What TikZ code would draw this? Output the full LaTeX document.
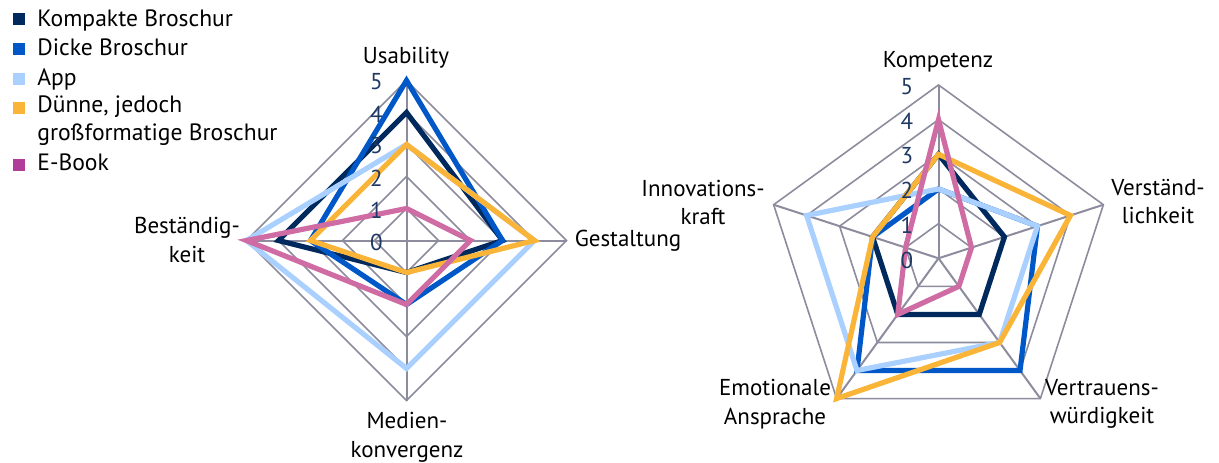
\documentclass[tikz,border=0pt]{standalone}
\usepackage{fontspec}
\setmainfont{PT Sans}
\usetikzlibrary{calc}
\definecolor{navyc}{RGB}{0,42,94}
\definecolor{bluec}{RGB}{0,88,200}
\definecolor{appc}{RGB}{170,208,255}
\definecolor{orangec}{RGB}{250,180,55}
\definecolor{pinkc}{RGB}{208,108,164}
\definecolor{pinkleg}{RGB}{176,62,152}
\definecolor{gridc}{RGB}{140,140,158}
\definecolor{tickc}{RGB}{31,56,100}
\begin{document}
\begin{tikzpicture}[x=0.5pt,y=-0.5pt,
  gridline/.style={draw=gridc,line width=0.8pt},
  spoke/.style={draw=gridc,line width=1pt},
  series/.style={line width=2.6pt,line join=miter},
  lbl/.style={font=\fontsize{11.5}{14.25}\selectfont,align=center,inner sep=0pt},
  ticklbl/.style={font=\fontsize{11.5}{13}\selectfont,text=tickc,inner sep=0pt},
  legsq/.style={minimum size=6pt,inner sep=0pt},
  legtxt/.style={font=\fontsize{11.8}{14.25}\selectfont,anchor=base west,inner sep=0pt,align=left}]
\useasboundingbox (0,0) rectangle (1219,462);
% ---------------- left chart
\coordinate (L) at (406.5,240.5);
\foreach \r in {1,...,5}
  \draw[gridline] ($(L)+(-90:\r*32)$) -- ($(L)+(0:\r*32)$) -- ($(L)+(90:\r*32)$) -- ($(L)+(180:\r*32)$) -- cycle;
\foreach \a in {-90,0,90,180}
  \draw[spoke] (L) -- ($(L)+(\a:160)$);
\newcommand\quadpoly[5]{\draw[series,#1] ($(L)+(-90:#2*32)$) -- ($(L)+(0:#3*32)$) -- ($(L)+(90:#4*32)$) -- ($(L)+(180:#5*32)$) -- cycle;}
\quadpoly{navyc}{4}{3}{1}{4}
\quadpoly{bluec}{5}{3}{2}{3}
\quadpoly{appc}{3}{4}{4}{5}
\quadpoly{orangec}{3}{4}{1}{3}
\quadpoly{pinkc}{1}{2}{2}{5}
\foreach \v in {0,...,5}
  \node[ticklbl] (lt\v) at (376.5,{242-\v*32}) {\v};
\node[lbl] (usab) at (406,58) {Usability};
\node[lbl] (gest) at (628,241) {Gestaltung};
\node[lbl] (medi) at (407,437.5) {Medien-\\konvergenz};
\node[lbl] (best) at (187,240) {Beständig-\\keit};
% ---------------- right chart
\coordinate (R) at (938.5,258.3);
\foreach \r in {1,...,5}
  \draw[gridline] ($(R)+(-90:\r*34.67)$) -- ($(R)+(-18:\r*34.67)$) -- ($(R)+(54:\r*34.67)$) -- ($(R)+(126:\r*34.67)$) -- ($(R)+(198:\r*34.67)$) -- cycle;
\foreach \a in {-90,-18,54,126,198}
  \draw[spoke] (R) -- ($(R)+(\a:173.3)$);
\newcommand\pentpoly[6]{\draw[series,#1] ($(R)+(-90:#2*34.67)$) -- ($(R)+(-18:#3*34.67)$) -- ($(R)+(54:#4*34.67)$) -- ($(R)+(126:#5*34.67)$) -- ($(R)+(198:#6*34.67)$) -- cycle;}
\pentpoly{navyc}{3}{2}{2}{2}{2}
\pentpoly{bluec}{2}{3}{4}{4}{2}
\pentpoly{appc}{2}{3}{3}{4}{4}
\pentpoly{orangec}{3}{4}{3}{5}{2}
\pentpoly{pinkc}{4}{1}{1}{2}{1}
\foreach \v in {0,...,5}
  \node[ticklbl] (rt\v) at (907,{260-\v*34.67}) {\v};
\node[lbl] (komp) at (938,62) {Kompetenz};
\node[lbl] (vers) at (1158,201.7) {Verständ-\\lichkeit};
\node[lbl] (vert) at (1102,404) {Vertrauens-\\würdigkeit};
\node[lbl] (emot) at (775,404) {Emotionale\\Ansprache};
\node[lbl] (inno) at (703,202.3) {Innovations-\\kraft};
% ---------------- legend
\node[legsq,fill=navyc] (sq1) at (19.3,19.3) {};
\node[legsq,fill=bluec] (sq2) at (19.3,49) {};
\node[legsq,fill=appc] (sq3) at (19.3,78.8) {};
\node[legsq,fill=orangec] (sq4) at (19.3,107.5) {};
\node[legsq,fill=pinkleg] (sq5) at (19.3,164.5) {};
\node[legtxt] (lg1) at (37,26.7) {Kompakte Broschur};
\node[legtxt] (lg2) at (37,55) {Dicke Broschur};
\node[legtxt] (lg3) at (37,85) {App};
\node[legtxt] (lg4) at (37,140.7) {Dünne, jedoch\\großformatige Broschur};
\node[legtxt] (lg5) at (37,170) {E-Book};
\end{tikzpicture}
\end{document}
